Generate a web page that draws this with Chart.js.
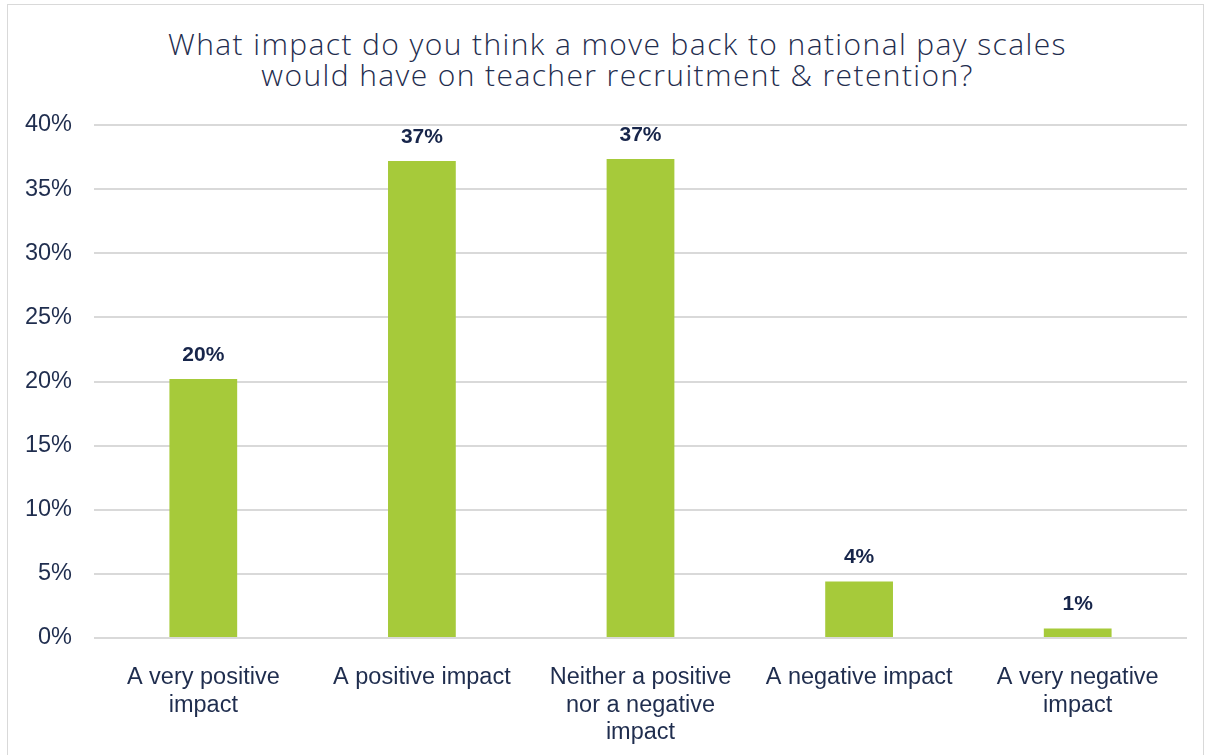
<!DOCTYPE html>
<html>
<head>
<meta charset="utf-8">
<script src="https://cdn.jsdelivr.net/npm/chart.js@4"></script>
<style>
  html, body { margin: 0; padding: 0; background: #fff; }
  #wrap { position: relative; width: 1211px; height: 755px; overflow: hidden; }
  #frame { position: absolute; left: 7px; top: 4px; width: 1197px; height: 800px; border: 1.5px solid #d9d9d9; box-sizing: border-box; }
  #title { position: absolute; left: 0; top: 28px; width: 1235px; text-align: center; font-family: "Open Sans", sans-serif; font-weight: 300; font-size: 30px; line-height: 31px; color: #1f2d4e; letter-spacing: 1.4px; }
  canvas { position: absolute; left: 0; top: 0; }
</style>
</head>
<body>
<div id="wrap">
  <div id="frame"></div>
  <div id="title">What impact do you think a move back to national pay scales<br>would have on teacher recruitment &amp; retention?</div>
  <canvas id="chart" width="1211" height="755"></canvas>
</div>
<script>
// --- Data ---
const categories = [
    ['A very positive', 'impact'],
    'A positive impact',
    ['Neither a positive', 'nor a negative', 'impact'],
    'A negative impact',
    ['A very negative', 'impact']
];
const shares = [20.2, 37.2, 37.35, 4.4, 0.75];
const yTicks = [0, 5, 10, 15, 20, 25, 30, 35, 40];

const navy = '#1f2d4e';
const green = '#a6ca3a';

// value labels above each bar
const barLabels = {
    id: 'barLabels',
    afterDatasetsDraw(chart) {
        const ctx = chart.ctx;
        const meta = chart.getDatasetMeta(0);
        ctx.save();
        ctx.font = 'bold 21px "Liberation Sans", Arial, sans-serif';
        ctx.fillStyle = '#17254a';
        ctx.textAlign = 'center';
        ctx.textBaseline = 'middle';
        meta.data.forEach((bar, i) => {
            ctx.fillText(Math.round(shares[i]) + '%', bar.x, bar.y - 24);
        });
        ctx.restore();
    }
};

new Chart(document.getElementById('chart'), {
    type: 'bar',
    data: {
        labels: categories,
        datasets: [{
            data: shares,
            backgroundColor: green,
            categoryPercentage: 1,
            barPercentage: 0.31
        }]
    },
    options: {
        responsive: false,
        animation: false,
        layout: { padding: { top: 125, right: 24, left: 0, bottom: 0 } },
        plugins: {
            legend: { display: false },
            tooltip: { enabled: false }
        },
        scales: {
            x: {
                grid: { display: false },
                border: { display: false },
                ticks: {
                    color: navy,
                    font: { family: '"Liberation Sans", Arial, sans-serif', size: 23.5, lineHeight: 1.17 },
                    padding: 18,
                    maxRotation: 0,
                    autoSkip: false
                },
                afterFit(scale) { scale.height = 117; }
            },
            y: {
                min: 0,
                max: 40,
                afterBuildTicks(scale) { scale.ticks = yTicks.map(v => ({ value: v })); },
                grid: { color: '#d9d9d9', lineWidth: 2, drawTicks: false },
                border: { display: false },
                ticks: {
                    color: navy,
                    font: { family: '"Liberation Sans", Arial, sans-serif', size: 23.5 },
                    padding: 22,
                    callback: v => v + '%'
                },
                afterFit(scale) { scale.width = 94; }
            }
        }
    },
    plugins: [barLabels]
});
</script>
</body>
</html>
